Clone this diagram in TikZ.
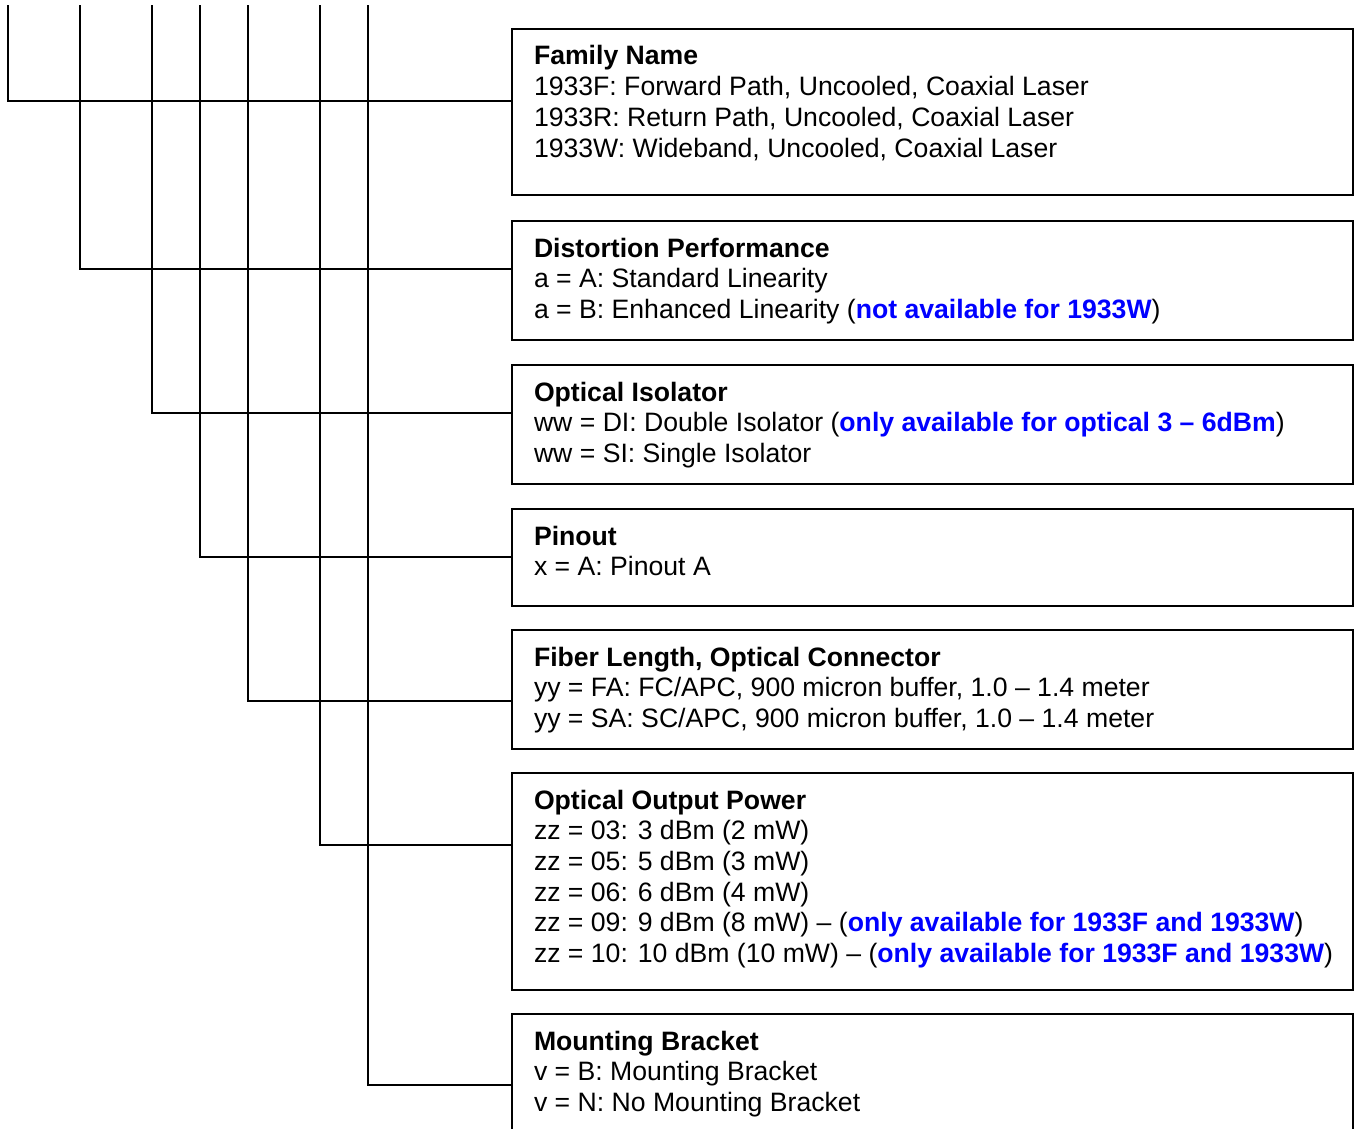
\documentclass[tikz,border=0pt]{standalone}
\usepackage{fontspec}
\setmainfont{Liberation Sans}
\definecolor{note}{RGB}{0,0,255}
\newcommand{\avail}[1]{\textcolor{note}{\textbf{#1}}}
\begin{document}
\begin{tikzpicture}[x=0.02cm, y=-0.02cm, line width=1.1pt,
  box/.style={draw, rectangle, anchor=north west, inner sep=0pt, outer sep=0pt,
    minimum width=841*0.02cm, minimum height=#1*0.02cm},
  info/.style={anchor=north west, inner sep=0pt, outer sep=0pt, align=left,
    font=\fontsize{15.15}{17.5}\selectfont}]
\useasboundingbox (0,0) rectangle (1356,1129);
\clip (0,0) rectangle (1356,1129);

\node[box=166] (fam) at (512,29) {};
\node[box=119] (dist) at (512,221) {};
\node[box=119] (iso) at (512,365) {};
\node[box=97] (pin) at (512,509) {};
\node[box=119] (fib) at (512,630) {};
\node[box=217] (pow) at (512,773) {};
\node[box=190] (mnt) at (512,1014) {};

\node[info] (famtxt) at ([shift={(22,16)}]fam.north west) {\rule{0pt}{0.4cm}\textbf{Family Name}\\
  1933F: Forward Path, Uncooled, Coaxial Laser\\
  1933R: Return Path, Uncooled, Coaxial Laser\\
  1933W: Wideband, Uncooled, Coaxial Laser};
\node[info] (disttxt) at ([shift={(22,16)}]dist.north west) {\rule{0pt}{0.4cm}\textbf{Distortion Performance}\\
  a = A: Standard Linearity\\
  a = B: Enhanced Linearity (\avail{not available for 1933W})};
\node[info] (isotxt) at ([shift={(22,16)}]iso.north west) {\rule{0pt}{0.4cm}\textbf{Optical Isolator}\\
  ww = DI: Double Isolator (\avail{only available for optical 3 – 6dBm})\\
  ww = SI: Single Isolator};
\node[info] (pintxt) at ([shift={(22,16)}]pin.north west) {\rule{0pt}{0.4cm}\textbf{Pinout}\\
  x = A: Pinout A};
\node[info] (fibtxt) at ([shift={(22,16)}]fib.north west) {\rule{0pt}{0.4cm}\textbf{Fiber Length, Optical Connector}\\
  yy = FA: FC/APC, 900 micron buffer, 1.0 – 1.4 meter\\
  yy = SA: SC/APC, 900 micron buffer, 1.0 – 1.4 meter};
\node[info] (powtxt) at ([shift={(22,16)}]pow.north west) {\rule{0pt}{0.4cm}\textbf{Optical Output Power}\\
  zz = 03: 3 dBm (2 mW)\\
  zz = 05: 5 dBm (3 mW)\\
  zz = 06: 6 dBm (4 mW)\\
  zz = 09: 9 dBm (8 mW) – (\avail{only available for 1933F and 1933W})\\
  zz = 10: 10 dBm (10 mW) – (\avail{only available for 1933F and 1933W})};
\node[info] (mnttxt) at ([shift={(22,16)}]mnt.north west) {\rule{0pt}{0.4cm}\textbf{Mounting Bracket}\\
  v = B: Mounting Bracket\\
  v = N: No Mounting Bracket};

% code digit lines
\coordinate (t1) at (8,5);
\coordinate (t2) at (80,5);
\coordinate (t3) at (152,5);
\coordinate (t4) at (200,5);
\coordinate (t5) at (248,5);
\coordinate (t6) at (320,5);
\coordinate (t7) at (368,5);

\draw (t1) |- (fam.west |- 0,101);
\draw (t2) |- (dist.west |- 0,269);
\draw (t3) |- (iso.west |- 0,413);
\draw (t4) |- (pin.west |- 0,557);
\draw (t5) |- (fib.west |- 0,701);
\draw (t6) |- (pow.west |- 0,845);
\draw (t7) |- (mnt.west |- 0,1085);
\end{tikzpicture}
\end{document}
